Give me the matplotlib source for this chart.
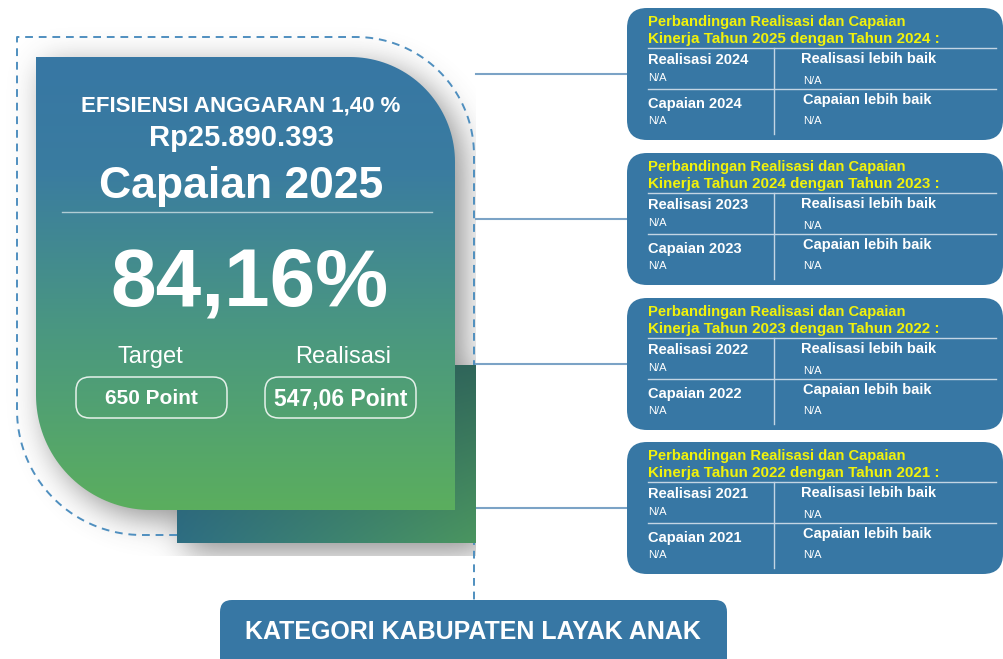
import numpy as np
import matplotlib
matplotlib.use('Agg')
import matplotlib.pyplot as plt
from matplotlib.path import Path
from matplotlib.patches import PathPatch, FancyBboxPatch, Rectangle
import matplotlib.colors as mcolors

# --- data ---
efisiensi_label = 'EFISIENSI ANGGARAN 1,40 %'
anggaran_value = 'Rp25.890.393'
capaian_title = 'Capaian 2025'
capaian_pct = '84,16%'
target_label = 'Target'
target_value = '650 Point'
realisasi_label = 'Realisasi'
realisasi_value = '547,06 Point'
kategori_label = 'KATEGORI KABUPATEN LAYAK ANAK'

panel_years = [2025, 2024, 2023, 2022]
panel_prev_years = [2024, 2023, 2022, 2021]
realisasi_prev = ['N/A', 'N/A', 'N/A', 'N/A']
realisasi_better = ['N/A', 'N/A', 'N/A', 'N/A']
capaian_prev = ['N/A', 'N/A', 'N/A', 'N/A']
capaian_better = ['N/A', 'N/A', 'N/A', 'N/A']

# --- canvas in pixel coords ---
W, H = 1004, 659
plt.rcParams['font.family'] = ['Liberation Sans', 'DejaVu Sans']
fig = plt.figure(figsize=(W / 100, H / 100), dpi=100)
ax = fig.add_axes([0, 0, 1, 1])
ax.set_xlim(0, W)
ax.set_ylim(H, 0)
ax.axis('off')

BLUE = '#3777a4'


def arc(cx, cy, r, a0, a1, n=40):
    a = np.radians(np.linspace(a0, a1, n))
    return list(zip(cx + r * np.cos(a), cy + r * np.sin(a)))


def card_verts(x0, y0, x1, y1, r_tr, r_bl):
    v = [(x0, y0), (x1 - r_tr, y0)]
    v += arc(x1 - r_tr, y0 + r_tr, r_tr, -90, 0)
    v += [(x1, y1), (x0 + r_bl, y1)]
    v += arc(x0 + r_bl, y1 - r_bl, r_bl, 90, 180)
    v += [(x0, y0)]
    return v


def blur(a, s):
    k = np.exp(-0.5 * (np.arange(-3 * s, 3 * s + 1) / s) ** 2)
    k /= k.sum()
    a = np.apply_along_axis(lambda r: np.convolve(r, k, mode='same'), 1, a)
    a = np.apply_along_axis(lambda c: np.convolve(c, k, mode='same'), 0, a)
    return a


card = (36, 57, 455, 510, 105, 115)
dark = (177, 365, 476, 543)

# soft shadow behind the card group, cut off at the frame edges
cverts = card_verts(*card)
yy, xx = np.mgrid[0:H, 0:W]
off = 9
pts = np.column_stack([xx.ravel() + 0.5 - off, yy.ravel() + 0.5 - off])
mask = Path(cverts).contains_points(pts).reshape(H, W).astype(float)
mask[(yy >= dark[1] + off) & (yy <= dark[3] + off) & (xx >= dark[0] + off) & (xx <= dark[2] + off)] = 1
sh = blur(mask, 16) * 0.62
sh[:, 476:] = 0
sh[556:, :] = 0
rgba = np.zeros((H, W, 4))
rgba[..., :3] = 0.3
rgba[..., 3] = sh
ax.imshow(rgba, extent=(0, W, H, 0), zorder=1, interpolation='bilinear')

# dashed outline
dv = [(177, 535), (17 + 125, 535)]
dv += arc(17 + 125, 535 - 125, 125, 90, 180)
dv += [(17, 37), (474 - 118, 37)]
dv += arc(474 - 118, 37 + 118, 118, -90, 0)
dv += [(474, 600)]
dx, dy = zip(*dv)
ax.plot(dx, dy, color='#4f8fbf', lw=1.4, ls=(0, (4, 3)), zorder=2)

# connector lines
for top in [8, 153, 298, 442]:
    ax.plot([476, 627], [top + 66, top + 66], color='#7ba3c6', lw=1.5, zorder=2)

# dark rectangle with 2D gradient
tl, tr = np.array(mcolors.to_rgb('#2a5566')), np.array(mcolors.to_rgb('#30665a'))
bl, br = np.array(mcolors.to_rgb('#2e6e82')), np.array(mcolors.to_rgb('#4a9560'))
u = np.linspace(0, 1, 60)[None, :, None]
v = np.linspace(0, 1, 60)[:, None, None]
grad = (1 - v) * ((1 - u) * tl + u * tr) + v * ((1 - u) * bl + u * br)
ax.imshow(grad, extent=(dark[0], dark[2], dark[3], dark[1]), zorder=3, interpolation='bilinear')

# main card with vertical gradient
cmap = mcolors.LinearSegmentedColormap.from_list(
    'card', [(0, '#3777a4'), (0.25, '#3a7ca0'), (0.6, '#4a9781'), (1.0, '#5bae5e')])
g = cmap(np.linspace(0, 1, 256))[:, None, :3]
cpatch = PathPatch(Path(cverts), fc='none', ec='none', zorder=4)
ax.add_patch(cpatch)
im = ax.imshow(np.repeat(g, 2, axis=1), extent=(card[0], card[2], card[3], card[1]),
               zorder=4, interpolation='bilinear')
im.set_clip_path(cpatch)

cx = 241
ax.text(cx, 106, efisiensi_label, color='white', fontsize=16, fontweight='bold',
        ha='center', va='center', zorder=6)
ax.text(cx, 138, anggaran_value, color='white', fontsize=21, fontweight='bold',
        ha='center', va='center', zorder=6)
ax.text(cx, 186, capaian_title, color='white', fontsize=32, fontweight='bold',
        ha='center', va='center', zorder=6)
ax.plot([62, 432], [212, 212], color='white', alpha=0.6, lw=1, zorder=6)
ax.text(cx + 8, 284, capaian_pct, color='white', fontsize=59, fontweight='bold',
        ha='center', va='center', zorder=6)
ax.text(150, 357, target_label, color='white', fontsize=17, ha='center', va='center', zorder=6)
ax.text(343, 357, realisasi_label, color='white', fontsize=17, ha='center', va='center', zorder=6)
for x0, txt, fs in [(76, target_value, 15), (265, realisasi_value, 16.5)]:
    ax.add_patch(FancyBboxPatch((x0, 377), 151, 41, boxstyle='round,pad=0,rounding_size=14',
                                fc='none', ec='white', alpha=0.85, lw=1.1, zorder=6))
    ax.text(x0 + 75.5, 399, txt, color='white', fontsize=fs, fontweight='bold',
            ha='center', va='center', zorder=6)

# right comparison panels
for i, top in enumerate([8, 153, 298, 442]):
    ax.add_patch(FancyBboxPatch((627, top), 376, 132, boxstyle='round,pad=0,rounding_size=20',
                                fc=BLUE, ec='none', zorder=5))
    lx = 648
    ax.text(lx, top + 14, 'Perbandingan Realisasi dan Capaian', color='#f2f20a',
            fontsize=10.6, fontweight='bold', ha='left', va='center', zorder=6)
    ax.text(lx, top + 31, f'Kinerja Tahun {panel_years[i]} dengan Tahun {panel_prev_years[i]} :',
            color='#f2f20a', fontsize=10.9, fontweight='bold', ha='left', va='center', zorder=6)
    ax.plot([lx, 996], [top + 40, top + 40], color='#c3d5e4', lw=1, zorder=6)
    ax.plot([lx, 996], [top + 81, top + 81], color='#c3d5e4', lw=1, zorder=6)
    ax.plot([774, 774], [top + 40, top + 126], color='#c3d5e4', lw=1, zorder=6)
    ax.text(lx, top + 52, f'Realisasi {panel_prev_years[i]}', color='white', fontsize=10.5,
            fontweight='bold', ha='left', va='center', zorder=6)
    ax.text(lx, top + 70, realisasi_prev[i], color='white', fontsize=8, ha='left', va='center', zorder=6)
    ax.text(801, top + 51, 'Realisasi lebih baik', color='white', fontsize=10.5,
            fontweight='bold', ha='left', va='center', zorder=6)
    ax.text(803, top + 73, realisasi_better[i], color='white', fontsize=8, ha='left', va='center', zorder=6)
    ax.text(lx, top + 96, f'Capaian {panel_prev_years[i]}', color='white', fontsize=10.5,
            fontweight='bold', ha='left', va='center', zorder=6)
    ax.text(lx, top + 113, capaian_prev[i], color='white', fontsize=8, ha='left', va='center', zorder=6)
    ax.text(803, top + 92, 'Capaian lebih baik', color='white', fontsize=10.5,
            fontweight='bold', ha='left', va='center', zorder=6)
    ax.text(803, top + 113, capaian_better[i], color='white', fontsize=8, ha='left', va='center', zorder=6)

# bottom category box
ax.add_patch(FancyBboxPatch((220, 600), 507, 75, boxstyle='round,pad=0,rounding_size=12',
                            fc=BLUE, ec='none', zorder=5, clip_on=True))
ax.text(473, 632, kategori_label, color='white', fontsize=18, fontweight='bold',
        ha='center', va='center', zorder=6)

fig.savefig('out.png', dpi=100)
